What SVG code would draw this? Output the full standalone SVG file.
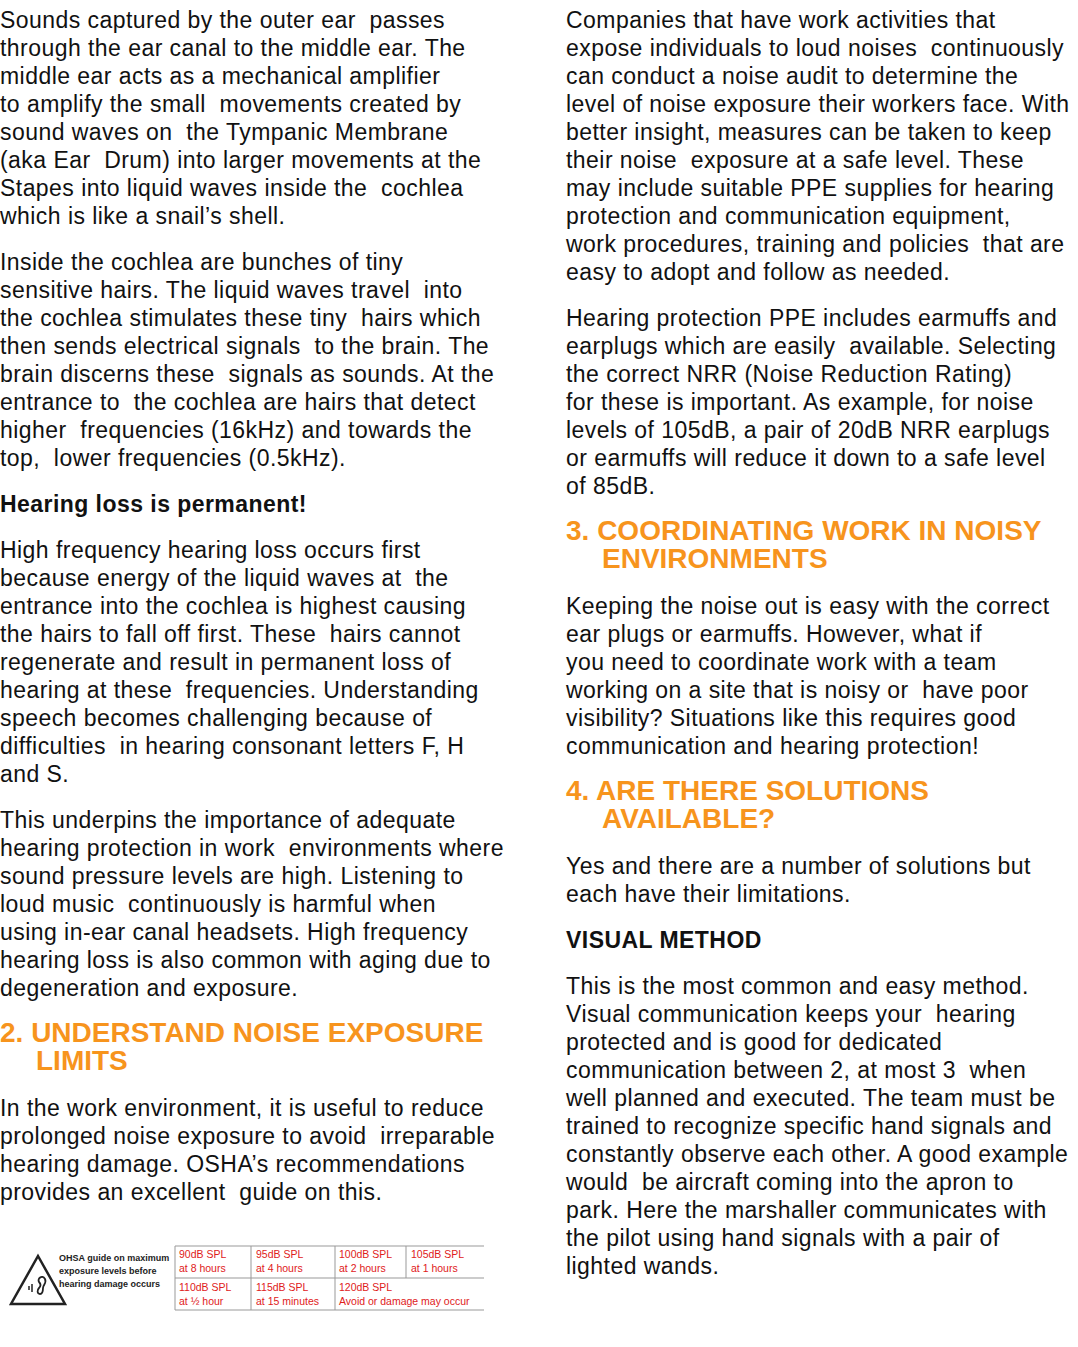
<svg xmlns="http://www.w3.org/2000/svg" width="1078" height="1347" viewBox="0 0 1078 1347">
<style>
.b{font-family:"Liberation Sans",Arial,sans-serif;font-size:23px;letter-spacing:0.45px;fill:#111}
.h{font-family:"Liberation Sans",Arial,sans-serif;font-size:28px;font-weight:bold;fill:#F7941D}
.s{font-family:"Liberation Sans",Arial,sans-serif;font-size:10.5px;fill:#e0201a}
.g{font-family:"Liberation Sans",Arial,sans-serif;font-size:9px;font-weight:bold;fill:#222}
</style>
<rect width="1078" height="1347" fill="#fff"/>
<text class="b" x="0">
<tspan x="0" y="28">Sounds captured by the outer ear&#160; passes</tspan>
<tspan x="0" y="56">through the ear canal to the middle ear. The</tspan>
<tspan x="0" y="84">middle ear acts as a mechanical amplifier</tspan>
<tspan x="0" y="112">to amplify the small&#160; movements created by</tspan>
<tspan x="0" y="140">sound waves on&#160; the Tympanic Membrane</tspan>
<tspan x="0" y="168">(aka Ear&#160; Drum) into larger movements at the</tspan>
<tspan x="0" y="196">Stapes into liquid waves inside the&#160; cochlea</tspan>
<tspan x="0" y="224">which is like a snail’s shell.</tspan>
<tspan x="0" y="270">Inside the cochlea are bunches of tiny</tspan>
<tspan x="0" y="298">sensitive hairs. The liquid waves travel&#160; into</tspan>
<tspan x="0" y="326">the cochlea stimulates these tiny&#160; hairs which</tspan>
<tspan x="0" y="354">then sends electrical signals&#160; to the brain. The</tspan>
<tspan x="0" y="382">brain discerns these&#160; signals as sounds. At the</tspan>
<tspan x="0" y="410">entrance to&#160; the cochlea are hairs that detect</tspan>
<tspan x="0" y="438">higher&#160; frequencies (16kHz) and towards the</tspan>
<tspan x="0" y="466">top,&#160; lower frequencies (0.5kHz).</tspan>
<tspan x="0" y="512" font-weight="bold">Hearing loss is permanent!</tspan>
<tspan x="0" y="558">High frequency hearing loss occurs first</tspan>
<tspan x="0" y="586">because energy of the liquid waves at&#160; the</tspan>
<tspan x="0" y="614">entrance into the cochlea is highest causing</tspan>
<tspan x="0" y="642">the hairs to fall off first. These&#160; hairs cannot</tspan>
<tspan x="0" y="670">regenerate and result in permanent loss of</tspan>
<tspan x="0" y="698">hearing at these&#160; frequencies. Understanding</tspan>
<tspan x="0" y="726">speech becomes challenging because of</tspan>
<tspan x="0" y="754">difficulties&#160; in hearing consonant letters F, H</tspan>
<tspan x="0" y="782">and S.</tspan>
<tspan x="0" y="828">This underpins the importance of adequate</tspan>
<tspan x="0" y="856">hearing protection in work&#160; environments where</tspan>
<tspan x="0" y="884">sound pressure levels are high. Listening to</tspan>
<tspan x="0" y="912">loud music&#160; continuously is harmful when</tspan>
<tspan x="0" y="940">using in-ear canal headsets. High frequency</tspan>
<tspan x="0" y="968">hearing loss is also common with aging due to</tspan>
<tspan x="0" y="996">degeneration and exposure.</tspan>
<tspan x="0" y="1116">In the work environment, it is useful to reduce</tspan>
<tspan x="0" y="1144">prolonged noise exposure to avoid&#160; irreparable</tspan>
<tspan x="0" y="1172">hearing damage. OSHA’s recommendations</tspan>
<tspan x="0" y="1200">provides an excellent&#160; guide on this.</tspan>
</text>
<text class="h"><tspan x="0" y="1042">2. UNDERSTAND NOISE EXPOSURE</tspan><tspan x="36" y="1070">LIMITS</tspan></text>
<text class="b">
<tspan x="566" y="28">Companies that have work activities that</tspan>
<tspan x="566" y="56">expose individuals to loud noises&#160; continuously</tspan>
<tspan x="566" y="84">can conduct a noise audit to determine the</tspan>
<tspan x="566" y="112">level of noise exposure their workers face. With</tspan>
<tspan x="566" y="140">better insight, measures can be taken to keep</tspan>
<tspan x="566" y="168">their noise&#160; exposure at a safe level. These</tspan>
<tspan x="566" y="196">may include suitable PPE supplies for hearing</tspan>
<tspan x="566" y="224">protection and communication equipment,</tspan>
<tspan x="566" y="252">work procedures, training and policies&#160; that are</tspan>
<tspan x="566" y="280">easy to adopt and follow as needed.</tspan>
<tspan x="566" y="326">Hearing protection PPE includes earmuffs and</tspan>
<tspan x="566" y="354">earplugs which are easily&#160; available. Selecting</tspan>
<tspan x="566" y="382">the correct NRR (Noise Reduction Rating)</tspan>
<tspan x="566" y="410">for these is important. As example, for noise</tspan>
<tspan x="566" y="438">levels of 105dB, a pair of 20dB NRR earplugs</tspan>
<tspan x="566" y="466">or earmuffs will reduce it down to a safe level</tspan>
<tspan x="566" y="494">of 85dB.</tspan>
<tspan x="566" y="614">Keeping the noise out is easy with the correct</tspan>
<tspan x="566" y="642">ear plugs or earmuffs. However, what if</tspan>
<tspan x="566" y="670">you need to coordinate work with a team</tspan>
<tspan x="566" y="698">working on a site that is noisy or&#160; have poor</tspan>
<tspan x="566" y="726">visibility? Situations like this requires good</tspan>
<tspan x="566" y="754">communication and hearing protection!</tspan>
<tspan x="566" y="874">Yes and there are a number of solutions but</tspan>
<tspan x="566" y="902">each have their limitations.</tspan>
<tspan x="566" y="948" font-weight="bold">VISUAL METHOD</tspan>
<tspan x="566" y="994">This is the most common and easy method.</tspan>
<tspan x="566" y="1022">Visual communication keeps your&#160; hearing</tspan>
<tspan x="566" y="1050">protected and is good for dedicated</tspan>
<tspan x="566" y="1078">communication between 2, at most 3&#160; when</tspan>
<tspan x="566" y="1106">well planned and executed. The team must be</tspan>
<tspan x="566" y="1134">trained to recognize specific hand signals and</tspan>
<tspan x="566" y="1162">constantly observe each other. A good example</tspan>
<tspan x="566" y="1190">would&#160; be aircraft coming into the apron to</tspan>
<tspan x="566" y="1218">park. Here the marshaller communicates with</tspan>
<tspan x="566" y="1246">the pilot using hand signals with a pair of</tspan>
<tspan x="566" y="1274">lighted wands.</tspan>
</text>
<text class="h"><tspan x="566" y="540">3. COORDINATING WORK IN NOISY</tspan><tspan x="602" y="568">ENVIRONMENTS</tspan></text>
<text class="h"><tspan x="566" y="800">4. ARE THERE SOLUTIONS</tspan><tspan x="602" y="828">AVAILABLE?</tspan></text>
<g id="osha-table">
<path d="M38 1256 L65 1304 L11 1304 Z" fill="none" stroke="#222" stroke-width="2.5"/>
<path d="M40 1294 c-3 0 -3 -4 -1 -6 c2 -2 2 -4 0 -6 c-2 -3 3 -8 6 -3 c2 4 -2 6 -2 9 c0 3 -1 6 -3 6" fill="none" stroke="#222" stroke-width="1.8"/>
<path d="M32 1284 v8 M29 1286 v4" stroke="#222" stroke-width="1.5"/>
<text class="g"><tspan x="59" y="1261">OHSA guide on maximum</tspan><tspan x="59" y="1274">exposure levels before</tspan><tspan x="59" y="1287">hearing damage occurs</tspan></text>
<g stroke="#999" stroke-width="1" fill="none">
<path d="M175 1246 H484 M175 1278 H484 M175 1310 H484 M175 1246 V1310 M251 1246 V1310 M335 1246 V1310 M406 1246 V1278"/>
</g>
<text class="s">
<tspan x="179" y="1258">90dB SPL</tspan><tspan x="179" y="1272">at 8 hours</tspan>
<tspan x="256" y="1258">95dB SPL</tspan><tspan x="256" y="1272">at 4 hours</tspan>
<tspan x="339" y="1258">100dB SPL</tspan><tspan x="339" y="1272">at 2 hours</tspan>
<tspan x="411" y="1258">105dB SPL</tspan><tspan x="411" y="1272">at 1 hours</tspan>
<tspan x="179" y="1291">110dB SPL</tspan><tspan x="179" y="1305">at ½ hour</tspan>
<tspan x="256" y="1291">115dB SPL</tspan><tspan x="256" y="1305">at 15 minutes</tspan>
<tspan x="339" y="1291">120dB SPL</tspan><tspan x="339" y="1305">Avoid or damage may occur</tspan>
</text>
</g>
</svg>
